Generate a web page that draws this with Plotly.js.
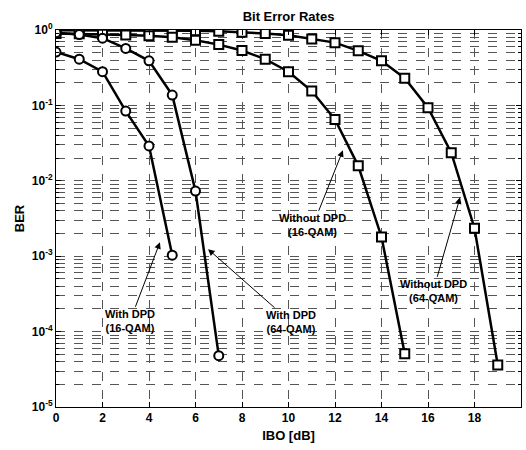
<!DOCTYPE html>
<html>
<head>
<meta charset="utf-8">
<script src="https://cdn.plot.ly/plotly-3.0.1.min.js"></script>
<style>html,body{margin:0;padding:0;background:#fff;}#chart{width:526px;height:450px;}</style>
</head>
<body>
<div id="chart"></div>
<script>
// IBO values (dB)
const iboDpd16 = [0, 1, 2, 3, 4, 5];
const berDpd16 = [0.51, 0.41, 0.28, 0.084, 0.029, 0.00103];

const iboDpd64 = [0, 1, 2, 3, 4, 5, 6, 7];
const berDpd64 = [0.92, 0.87, 0.78, 0.57, 0.39, 0.137, 0.0073, 0.000048];

const iboNo16 = [0, 1, 2, 3, 4, 5, 6, 7, 8, 9, 10, 11, 12, 13, 14, 15];
const berNo16 = [0.9, 0.89, 0.88, 0.86, 0.84, 0.8, 0.73, 0.64, 0.535, 0.41, 0.28, 0.155, 0.065, 0.0158, 0.0018, 0.000051];

const iboNo64 = [0, 1, 2, 3, 4, 5, 6, 7, 8, 9, 10, 11, 12, 13, 14, 15, 16, 17, 18, 19];
const berNo64 = [0.99, 0.99, 0.99, 0.99, 0.99, 0.99, 0.98, 0.96, 0.935, 0.9, 0.85, 0.76, 0.68, 0.53, 0.39, 0.23, 0.093, 0.0236, 0.00235, 0.000036];

const xTicks = [0, 2, 4, 6, 8, 10, 12, 14, 16, 18, 20];
const decadeVals = [1, 0.1, 0.01, 0.001, 0.0001, 0.00001];
const decadeLabels = ['10<sup>0</sup>', '10<sup>-1</sup>', '10<sup>-2</sup>', '10<sup>-3</sup>', '10<sup>-4</sup>', '10<sup>-5</sup>'];

// annotation labels and arrow-head positions (data units; y in log10)
const labels = ['With DPD<br>(16-QAM)', 'With DPD<br>(64-QAM)', 'Without DPD<br>(16-QAM)', 'Without DPD<br>(64-QAM)'];
const headX = [4.47, 6.54, 12.34, 17.38];
const headLogY = [-2.815, -2.907, -1.596, -2.219];
const textDx = [-30, 83, -30, -27];
const textDy = [79, 73, 75, 94];

// minor gridlines: 2..9 within every decade
const yMinorVals = [];
for (let d = -5; d < 0; d++) {
  for (let m = 2; m <= 9; m++) yMinorVals.push(m * Math.pow(10, d));
}

const lineStyle = {color: '#000', width: 2.5};
function series(x, y, symbol) {
  return {
    x: x, y: y, type: 'scatter', mode: 'lines+markers',
    line: lineStyle,
    marker: {symbol: symbol, size: 9, color: '#fff', line: {color: '#000', width: 2}},
    showlegend: false, hoverinfo: 'skip'
  };
}

const data = [
  series(iboNo64, berNo64, 'square'),
  series(iboNo16, berNo16, 'square'),
  series(iboDpd64, berDpd64, 'circle'),
  series(iboDpd16, berDpd16, 'circle')
];

const FAM = 'Liberation Sans, Arial, sans-serif';
const font = {family: FAM, color: '#000', size: 12, weight: 'bold'};

const annotations = labels.map((t, i) => ({
  x: headX[i], y: headLogY[i], xref: 'x', yref: 'y',
  text: '<b>' + t + '</b>',
  showarrow: true, arrowhead: 2, arrowsize: 1.3, arrowwidth: 1, arrowcolor: '#000',
  ax: textDx[i], ay: textDy[i],
  font: {family: FAM, size: 11, color: '#000'},
  align: 'center'
}));

const layout = {
  width: 526, height: 450,
  margin: {l: 56, r: 5, t: 30, b: 43},
  paper_bgcolor: '#fff', plot_bgcolor: '#fff',
  title: {text: '<b>Bit Error Rates</b>', font: {family: FAM, size: 13, color: '#000'}, x: 0.5, xref: 'paper', y: 1, yref: 'paper', yanchor: 'bottom', pad: {b: 9}},
  xaxis: {
    range: [0, 20], tickvals: xTicks, ticktext: xTicks.map(String),
    showline: true, mirror: 'ticks', linecolor: '#000', linewidth: 1,
    ticks: 'inside', ticklen: 5, tickcolor: '#000',
    showgrid: true, gridcolor: '#555', gridwidth: 1, griddash: 'dash',
    zeroline: false,
    tickfont: font,
    title: {text: '<b>IBO [dB]</b>', font: {family: FAM, size: 13, color: '#000'}, standoff: 6}
  },
  yaxis: {
    type: 'log', range: [-5, 0],
    tickvals: decadeVals, ticktext: decadeLabels,
    showline: true, mirror: 'ticks', linecolor: '#000', linewidth: 1,
    ticks: 'inside', ticklen: 5, tickcolor: '#000',
    showgrid: true, gridcolor: '#555', gridwidth: 1, griddash: 'dash',
    minor: {tickmode: 'array', tickvals: yMinorVals, ticks: 'inside', ticklen: 3, tickcolor: '#000',
            showgrid: true, gridcolor: '#555', gridwidth: 1, griddash: 'dash'},
    zeroline: false,
    tickfont: font,
    title: {text: '<b>BER</b>', font: {family: FAM, size: 13, color: '#000'}, standoff: 4}
  },
  annotations: annotations
};

Plotly.newPlot('chart', data, layout, {staticPlot: true, displayModeBar: false});
</script>
</body>
</html>
